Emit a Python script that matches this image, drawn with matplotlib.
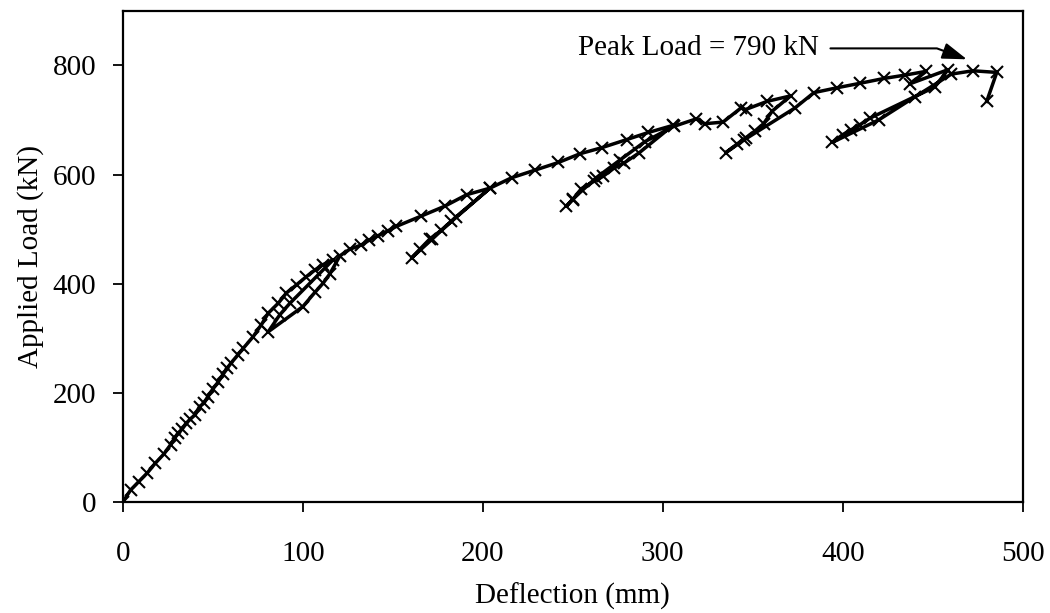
import matplotlib
matplotlib.use("Agg")
import matplotlib.pyplot as plt

# load-deflection record, in loading order (envelope with unload/reload cycles)
deflection = [
    0, 4.3, 8.7, 13.5, 18.0, 22.8, 26.5, 29.0, 30.6, 32.8, 35.2, 37.5, 40.2, 42.6, 45.0, 47.2,
    50.0, 52.8, 55.7, 58.0, 60.0, 64.0, 67.0, 72.4, 77.0, 80.8, 86.3, 90.9, 96.5, 102.0, 106.7,
    111.3, 116.9,
    92.8, 87.2, 80.8,
    100.0, 106.7, 111.3, 115.0, 120.6,
    126.0, 132.6, 137.0, 141.9, 147.4, 152.0, 165.9, 178.9, 191.0, 204.0,
    182.6, 177.0, 170.6, 165.0, 160.4,
    172.0, 185.0, 204.0,
    216.0, 229.0, 242.0, 254.0, 266.0, 280.0, 292.0, 305.7,
    287.0, 278.5, 273.0, 267.0, 262.0, 254.8, 250.0, 246.5,
    250.0, 263.0, 276.0, 290.0, 306.0,
    318.7, 323.3, 333.5, 343.5, 346.0, 358.0, 371.0,
    360.8, 356.0, 351.0, 346.0, 341.0, 335.0,
    345.0, 373.5, 384.0,
    397.0, 409.5, 423.0, 434.5, 446.4, 437.2, 458.5,
    451.0, 415.0, 409.5, 404.8, 400.0, 394.3,
    420.0, 440.0, 460.4, 472.4, 485.6, 480.0,
]
load = [
    0, 22, 37, 53, 71, 88, 105, 118, 126, 133, 144, 152, 160, 175, 181, 193,
    207, 219, 234, 245, 254, 270, 282, 303, 325, 346, 364, 383, 398, 413, 425,
    435, 444,
    364, 343, 312,
    358, 384, 401, 418, 451,
    463, 471, 480, 488, 497, 505, 524, 542, 563, 575,
    514, 498, 482, 463, 447,
    482, 522, 575,
    594, 608, 622, 638, 649, 664, 677, 690,
    640, 621, 612, 597, 588, 574, 554, 542,
    555, 594, 626, 660, 688,
    702, 693, 696, 722, 719, 734, 744,
    716, 693, 679, 667, 655, 640,
    663, 722, 750,
    759, 767, 776, 782, 789, 766, 792,
    760, 703, 691, 682, 673, 659,
    700, 742, 784, 790, 787, 734,
]

x_ticks = [0, 100, 200, 300, 400, 500]
y_ticks = [0, 200, 400, 600, 800]
peak_label = "Peak Load = 790 kN"

plt.rcParams["font.family"] = ["Liberation Serif", "DejaVu Serif"]
plt.rcParams["font.size"] = 21

fig = plt.figure(figsize=(10.5, 6.13), dpi=100)
ax = fig.add_axes([0.117, 0.181, 0.857, 0.8015])

ax.plot(deflection, load, color="black", lw=2.5, marker="x", ms=8, mew=1.5)

ax.set_xlim(0, 500)
ax.set_ylim(0, 900)
ax.set_xticks(x_ticks)
ax.set_yticks(y_ticks)
ax.tick_params(direction="out", length=7, width=1.3, colors="black")
ax.tick_params(axis="x", pad=21)
ax.tick_params(axis="y", pad=12)
for spine in ax.spines.values():
    spine.set_linewidth(1.6)
    spine.set_color("black")

ax.set_xlabel("Deflection (mm)", labelpad=11)
ax.set_ylabel("Applied Load (kN)")
ax.yaxis.set_label_coords(-0.088, 0.5)

ax.annotate(
    peak_label,
    xy=(469, 811),
    xytext=(387, 831),
    ha="right",
    va="center",
    arrowprops=dict(
        arrowstyle="-|>,head_length=0.75,head_width=0.25",
        color="black",
        lw=1.5,
        mutation_scale=20,
        shrinkA=6,
        shrinkB=0,
        connectionstyle="angle,angleA=0,angleB=160,rad=0",
    ),
)

fig.savefig("out.png", dpi=100)
